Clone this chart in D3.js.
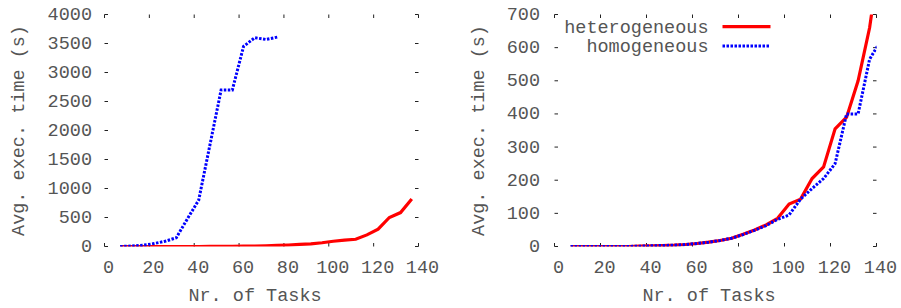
<!DOCTYPE html>
<html><head><meta charset="utf-8">
<script src="https://cdn.jsdelivr.net/npm/d3@7"></script>
<style>
html,body{margin:0;padding:0;background:#fff;}
svg{display:block;}
text{font-family:"Liberation Mono","DejaVu Sans Mono",monospace;font-size:18.5px;fill:#555;}
</style></head>
<body>
<svg id="c" width="901" height="308"></svg>
<script>
// ---- data ----
const leftHetX = [7,12,17,22,27,32,37,42,47,52,57,62,67,72,77,82,87,92,97,102,107,112,117,122,127,132,137];
const leftHetY = [0,0,0,0,0,0,0,0,1,2,3,5,8,12,18,25,35,45,65,90,110,125,200,300,500,585,820];
const leftHomX = [7,12,17,22,27,32,37,42,47,52,57,62,67,72,77];
const leftHomY = [0,8,20,50,90,150,480,800,1750,2700,2700,3450,3600,3570,3610];

const rightX = [7,12,17,22,27,32,37,42,47,52,57,62,67,72,77,82,87,92,97,102,107,112,117,122,127,132,137,142];
const rightHetY = [0,0,0,0,0,0,1,2,3,4,6,9,13,18,25,37,50,65,85,128,143,205,240,355,390,500,660,900];
const rightHomY = [0,0,0,0,0,0,1,2,3,4,6,9,13,18,25,36,49,63,82,95,143,175,205,250,400,400,565,623];

const xTicks = [0,20,40,60,80,100,120,140];
const leftYTicks = [0,500,1000,1500,2000,2500,3000,3500,4000];
const rightYTicks = [0,100,200,300,400,500,600,700];

const xLabel = "Nr. of Tasks";
const yLabel = "Avg. exec. time (s)";
const seriesNames = ["heterogeneous","homogeneous"];
const colors = ["#ff0000","#0000ff"];

const svg = d3.select("#c");

function panel(id, x0, x1, yTop, yBot, yMax, yTicks, yLabX, yTickLabEnd, series, legend){
  const x = d3.scaleLinear().domain([0,140]).range([x0,x1]);
  const y = d3.scaleLinear().domain([0,yMax]).range([yBot,yTop]);
  const g = svg.append("g");
  const tl = 3.5;
  const tickCol = "#222";
  xTicks.forEach(t=>{
    g.append("line").attr("x1",x(t)).attr("x2",x(t)).attr("y1",yBot).attr("y2",yBot-tl).attr("stroke",tickCol);
    g.append("line").attr("x1",x(t)).attr("x2",x(t)).attr("y1",yTop).attr("y2",yTop+tl).attr("stroke",tickCol);
    g.append("text").attr("x",x(t)+4).attr("y",yBot+26).attr("text-anchor","middle").text(t);
  });
  yTicks.forEach(t=>{
    g.append("line").attr("x1",x0).attr("x2",x0+tl).attr("y1",y(t)).attr("y2",y(t)).attr("stroke",tickCol);
    g.append("line").attr("x1",x1).attr("x2",x1-tl).attr("y1",y(t)).attr("y2",y(t)).attr("stroke",tickCol);
    g.append("text").attr("x",yTickLabEnd).attr("y",y(t)+5.5).attr("text-anchor","end").text(t);
  });
  g.append("text").attr("x",(x0+x1)/2-6.5).attr("y",300.5).attr("text-anchor","middle").text(xLabel);
  g.append("text").attr("transform",`translate(${yLabX},${(yTop+yBot)/2}) rotate(-90)`).attr("text-anchor","middle").text(yLabel);

  svg.append("clipPath").attr("id",id).append("rect").attr("x",x0).attr("y",yTop).attr("width",x1-x0).attr("height",yBot-yTop);
  const line = d3.line().x(d=>x(d[0])).y(d=>y(d[1]));
  const lg = g.append("g").attr("clip-path",`url(#${id})`);
  series.forEach(s=>{
    const pts = s.xs.map((v,i)=>[v,s.ys[i]]);
    lg.append("path").datum(pts).attr("d",line).attr("fill","none")
      .attr("stroke",s.color).attr("stroke-width",s.w).attr("stroke-dasharray",s.dash||null)
      .attr("stroke-linejoin","miter");
  });
  if(legend){
    legend.forEach((s,i)=>{
      const ly = 26.7 + i*19.3;
      g.append("text").attr("x",708.5).attr("y",ly+6).attr("text-anchor","end").text(s.name);
      g.append("line").attr("x1",722.5).attr("x2",770.5).attr("y1",ly).attr("y2",ly)
        .attr("stroke",s.color).attr("stroke-width",s.w).attr("stroke-dasharray",s.dash||null);
    });
  }
}

panel("clipL",104.5,418.5,14.5,246.5,4000,leftYTicks,24,92,[
  {xs:leftHetX, ys:leftHetY, color:colors[0], w:3.2},
  {xs:leftHomX, ys:leftHomY, color:colors[1], w:3, dash:"2.5,1.5"}
], null);

panel("clipR",554.5,876.5,14.5,246.5,700,rightYTicks,483.5,540,[
  {xs:rightX, ys:rightHetY, color:colors[0], w:3.2},
  {xs:rightX, ys:rightHomY, color:colors[1], w:3, dash:"2.5,1.5"}
], [
  {name:seriesNames[0], color:colors[0], w:3.2},
  {name:seriesNames[1], color:colors[1], w:3, dash:"2.5,1.5"}
]);
</script>
</body></html>
